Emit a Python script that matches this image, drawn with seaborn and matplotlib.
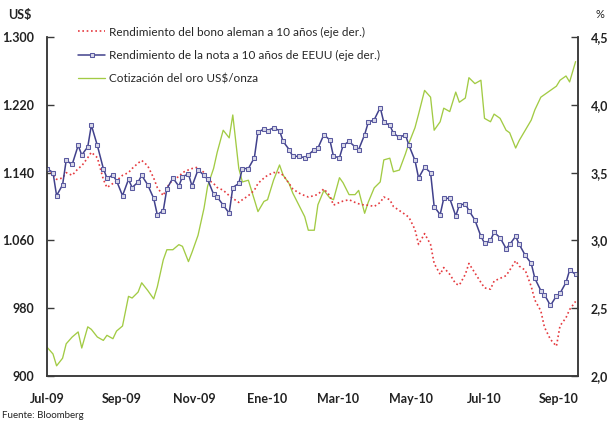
import pandas as pd
import matplotlib
matplotlib.use("Agg")
import matplotlib.pyplot as plt
import seaborn as sns

# Observations every third business day, 1 Jul 2009 - 17 Sep 2010
fechas = pd.bdate_range("2009-07-01", "2010-09-17")[::3]

# Rendimiento del bono aleman a 10 anos (%)
bono_aleman = [
    3.52, 3.49, 3.45, 3.46, 3.50, 3.48, 3.53, 3.55, 3.61, 3.65,
    3.61, 3.45, 3.39, 3.42, 3.44, 3.48, 3.50, 3.53, 3.57, 3.59,
    3.55, 3.46, 3.39, 3.33, 3.39, 3.45, 3.47, 3.50, 3.52, 3.53,
    3.54, 3.50, 3.45, 3.42, 3.39, 3.37, 3.33, 3.31, 3.28, 3.30,
    3.33, 3.37, 3.42, 3.46, 3.48, 3.50, 3.50, 3.48, 3.42, 3.38,
    3.35, 3.33, 3.32, 3.33, 3.34, 3.38, 3.33, 3.26, 3.28, 3.29,
    3.30, 3.28, 3.27, 3.26, 3.26, 3.25, 3.28, 3.32, 3.30, 3.25,
    3.22, 3.19, 3.17, 3.08, 2.97, 3.05, 2.97, 2.83, 2.75, 2.80,
    2.75, 2.68, 2.67, 2.75, 2.83, 2.76, 2.69, 2.65, 2.64, 2.70,
    2.72, 2.74, 2.78, 2.85, 2.81, 2.78, 2.66, 2.56, 2.48, 2.36,
    2.27, 2.22, 2.37, 2.43, 2.49, 2.55,
]

# Rendimiento de la nota a 10 anos de EEUU (%)
nota_eeuu = [
    3.53, 3.50, 3.33, 3.41, 3.59, 3.56, 3.70, 3.63, 3.69, 3.85,
    3.70, 3.53, 3.46, 3.48, 3.44, 3.33, 3.45, 3.39, 3.43, 3.48,
    3.41, 3.31, 3.19, 3.22, 3.38, 3.46, 3.40, 3.47, 3.49, 3.40,
    3.52, 3.48, 3.45, 3.34, 3.32, 3.26, 3.20, 3.39, 3.42, 3.53,
    3.53, 3.61, 3.80, 3.82, 3.81, 3.83, 3.81, 3.73, 3.67, 3.62,
    3.62, 3.61, 3.63, 3.67, 3.68, 3.78, 3.74, 3.62, 3.61, 3.70,
    3.73, 3.69, 3.67, 3.78, 3.87, 3.89, 3.98, 3.87, 3.85, 3.79,
    3.76, 3.78, 3.70, 3.59, 3.46, 3.54, 3.50, 3.25, 3.19, 3.31,
    3.31, 3.18, 3.26, 3.27, 3.22, 3.15, 3.03, 2.98, 3.00, 3.06,
    3.02, 2.94, 2.97, 3.03, 2.97, 2.89, 2.83, 2.72, 2.63, 2.60,
    2.52, 2.59, 2.61, 2.69, 2.78, 2.75,
]

# Cotizacion del oro (US$/onza)
oro = [
    934, 926, 912, 921, 938, 946, 952, 933, 958, 955,
    946, 942, 948, 944, 953, 959, 994, 992, 999, 1010,
    1001, 991, 1005, 1037, 1049, 1049, 1055, 1053, 1035, 1046,
    1066, 1098, 1124, 1145, 1164, 1190, 1181, 1208, 1145, 1129,
    1131, 1108, 1094, 1106, 1108, 1131, 1149, 1137, 1127, 1116,
    1102, 1088, 1072, 1072, 1102, 1119, 1110, 1108, 1134, 1128,
    1114, 1114, 1119, 1092, 1105, 1122, 1129, 1155, 1157, 1141,
    1143, 1162, 1175, 1193, 1209, 1237, 1229, 1190, 1200, 1216,
    1212, 1235, 1223, 1228, 1252, 1245, 1249, 1204, 1200, 1209,
    1204, 1190, 1187, 1169, 1178, 1190, 1202, 1214, 1229, 1232,
    1237, 1242, 1249, 1254, 1247, 1271,
]

meses_x = ["2009-07-01", "2009-09-01", "2009-11-01", "2010-01-01",
           "2010-03-01", "2010-05-01", "2010-07-01", "2010-09-01"]
etiquetas_x = ["Jul-09", "Sep-09", "Nov-09", "Ene-10",
               "Mar-10", "May-10", "Jul-10", "Sep-10"]
ticks_usd = [900, 980, 1060, 1140, 1220, 1300]
etiquetas_usd = ["900", "980", "1.060", "1.140", "1.220", "1.300"]
ticks_pct = [2.0, 2.5, 3.0, 3.5, 4.0, 4.5]
etiquetas_pct = ["2,0", "2,5", "3,0", "3,5", "4,0", "4,5"]

nombres = [
    "Rendimiento del bono aleman a 10 años (eje der.)",
    "Rendimiento de la nota a 10 años de EEUU (eje der.)",
    "Cotización del oro US$/onza",
]

ROJO = "#e53a3f"
AZUL = "#41418c"
VERDE = "#a2cb44"
EJE = "#3a3a3a"

sns.set_style("white")
plt.rcParams["font.family"] = ["Lato", "DejaVu Sans"]

df = pd.DataFrame({"fecha": fechas, "aleman": bono_aleman,
                   "eeuu": nota_eeuu, "oro": oro})

fig = plt.figure(figsize=(6.07, 4.21), dpi=100)
ax = fig.add_axes([47 / 607, 1 - 376 / 421, 531 / 607, 339 / 421])
ax2 = ax.twinx()

sns.lineplot(data=df, x="fecha", y="oro", ax=ax, color=VERDE, linewidth=0.95)
sns.lineplot(data=df, x="fecha", y="aleman", ax=ax2, color=ROJO,
             linewidth=1.2, linestyle=(0, (1, 1.6)))
sns.lineplot(data=df, x="fecha", y="eeuu", ax=ax2, color=AZUL, linewidth=1.1,
             marker="s", markersize=3.4, markerfacecolor="#d8d8e8",
             markeredgecolor="#5a5aa0", markeredgewidth=0.75)

l_oro = ax.lines[0]
l_aleman, l_eeuu = ax2.lines[0], ax2.lines[1]
l_aleman.set_linestyle((0, (1, 1.6)))

ax.set_xlim(pd.Timestamp("2009-07-01"), pd.Timestamp("2010-09-17"))
ax.set_ylim(900, 1300)
ax2.set_ylim(2.0, 4.5)

ax.set_xticks(pd.to_datetime(meses_x))
ax.set_xticklabels(etiquetas_x)
ax.set_yticks(ticks_usd)
ax.set_yticklabels(etiquetas_usd)
ax2.set_yticks(ticks_pct)
ax2.set_yticklabels(etiquetas_pct)

for a in (ax, ax2):
    a.set_xlabel("")
    a.set_ylabel("")
    a.spines["top"].set_visible(False)
    for s in ("left", "right", "bottom"):
        a.spines[s].set_color(EJE)
        a.spines[s].set_linewidth(1.1)

ax.tick_params(axis="x", direction="in", length=5, width=1, color=EJE,
               labelsize=9, pad=12, labelcolor="#222222")
ax.tick_params(axis="y", direction="in", length=5, width=1, color=EJE,
               labelsize=9, pad=9, labelcolor="#222222")
ax2.tick_params(axis="y", direction="in", length=5, width=1, color=EJE,
                labelsize=9, pad=9, labelcolor="#222222")
for lab in ax.get_xticklabels() + ax.get_yticklabels() + ax2.get_yticklabels():
    lab.set_fontweight("bold")

leg = ax2.legend([l_aleman, l_eeuu, l_oro], nombres, loc="upper left",
                 bbox_to_anchor=(0.05, 1.045), frameon=False, fontsize=8.5,
                 handlelength=2.3, handletextpad=0.3, labelspacing=1.05,
                 borderaxespad=0)

fig.text(8 / 607, 1 - 15 / 421, "US$", fontsize=9, fontweight="bold",
         va="center", ha="left", color="#222222")
fig.text(600 / 607, 1 - 15 / 421, "%", fontsize=8, va="center",
         ha="center", color="#222222")
fig.text(2 / 607, 1 - 415 / 421, "Fuente: Bloomberg", fontsize=7,
         va="center", ha="left", color="#222222")

fig.savefig("out.png", dpi=100)
